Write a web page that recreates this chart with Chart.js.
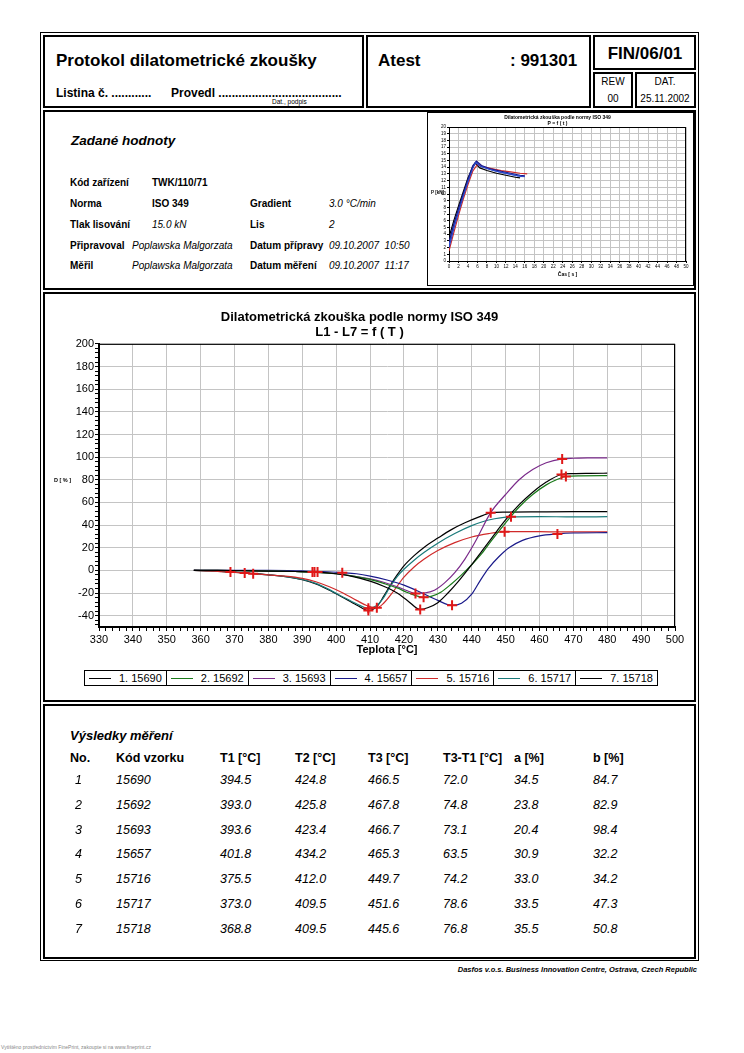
<!DOCTYPE html>
<html>
<head>
<meta charset="utf-8">
<script src="https://cdn.jsdelivr.net/npm/chart.js@4/dist/chart.umd.min.js"></script>
<style>
body { margin: 0; background: #fff; font-family: "Liberation Sans", Arial, sans-serif; color: #000; }
#page { position: relative; width: 744px; height: 1053px; overflow: hidden; }
.box { position: absolute; border: 2px solid #000; box-sizing: border-box; }
.t { position: absolute; white-space: nowrap; line-height: 1; transform: translateY(-50%); }
.c { transform: translate(-50%, -50%); }
.b { font-weight: bold; }
.i { font-style: italic; }
#legend { position: absolute; left: 84px; top: 670px; width: 574px; height: 16px; border: 1px solid #000; box-sizing: border-box; display: flex; }
#legend .cell { position: relative; flex: 1; border-right: 1px solid #000; font-size: 11px; white-space: nowrap; }
#legend .cell:last-child { border-right: none; }
#legend .ln { position: absolute; left: 4px; top: 7px; width: 22px; height: 0; border-top: 1px solid #000; }
#legend .tx { position: absolute; left: 34px; top: 1px; line-height: 13px; white-space: nowrap; }
</style>
</head>
<body>
<div id="page">
  <!-- frames -->
  <div class="box" style="left:40px;top:32px;width:659px;height:929px;border-width:1px"></div>
  <div class="box" style="left:43px;top:35px;width:321px;height:73px"></div>
  <div class="box" style="left:366px;top:35px;width:225px;height:73px"></div>
  <div class="box" style="left:593px;top:35px;width:103px;height:35px"></div>
  <div class="box" style="left:593px;top:72px;width:40px;height:36px"></div>
  <div class="box" style="left:635px;top:72px;width:61px;height:36px"></div>
  <div class="box" style="left:43px;top:110px;width:653px;height:180px"></div>
  <div class="box" style="left:427px;top:112px;width:267px;height:174px;border-width:1px"></div>
  <div class="box" style="left:43px;top:292px;width:653px;height:410px"></div>
  <div class="box" style="left:43px;top:704px;width:653px;height:255px"></div>

  <!-- header -->
  <div class="t b" style="left:56px;top:60px;font-size:17px">Protokol dilatometrické zkoušky</div>
  <div class="t b" style="left:56px;top:93px;font-size:12px">Listina č. ............</div>
  <div class="t b" style="left:171px;top:93px;font-size:12px">Provedl .....................................</div>
  <div class="t" style="left:272px;top:102px;font-size:6.5px">Dat., podpis</div>
  <div class="t b" style="left:378px;top:60px;font-size:17px">Atest</div>
  <div class="t b" style="left:510px;top:60px;font-size:17px">: 991301</div>
  <div class="t b c" style="left:645px;top:53px;font-size:17px">FIN/06/01</div>
  <div class="t c" style="left:613px;top:82px;font-size:10px">REW</div>
  <div class="t c" style="left:613px;top:99px;font-size:10px">00</div>
  <div class="t c" style="left:665px;top:82px;font-size:10px">DAT.</div>
  <div class="t c" style="left:665px;top:99px;font-size:10px">25.11.2002</div>

  <!-- zadane hodnoty -->
  <div class="t b i" style="left:71px;top:141px;font-size:13.5px">Zadané hodnoty</div>
  <div class="t b" style="left:70px;top:183px;font-size:10px">Kód zařízení</div>
  <div class="t b" style="left:152px;top:183px;font-size:10px">TWK/110/71</div>
  <div class="t b" style="left:70px;top:204px;font-size:10px">Norma</div>
  <div class="t b" style="left:152px;top:204px;font-size:10px">ISO 349</div>
  <div class="t b" style="left:250px;top:204px;font-size:10px">Gradient</div>
  <div class="t i" style="left:329px;top:204px;font-size:10px">3.0 °C/min</div>
  <div class="t b" style="left:70px;top:225px;font-size:10px">Tlak lisování</div>
  <div class="t i" style="left:152px;top:225px;font-size:10px">15.0 kN</div>
  <div class="t b" style="left:250px;top:225px;font-size:10px">Lis</div>
  <div class="t i" style="left:329px;top:225px;font-size:10px">2</div>
  <div class="t b" style="left:70px;top:246px;font-size:10px">Připravoval</div>
  <div class="t i" style="left:132px;top:246px;font-size:10px">Poplawska Malgorzata</div>
  <div class="t b" style="left:250px;top:246px;font-size:10px">Datum přípravy</div>
  <div class="t i" style="left:329px;top:246px;font-size:10px">09.10.2007&nbsp; 10:50</div>
  <div class="t b" style="left:70px;top:266px;font-size:10px">Měřil</div>
  <div class="t i" style="left:132px;top:266px;font-size:10px">Poplawska Malgorzata</div>
  <div class="t b" style="left:250px;top:266px;font-size:10px">Datum měření</div>
  <div class="t i" style="left:329px;top:266px;font-size:10px">09.10.2007&nbsp; 11:17</div>

  <!-- small chart -->
  <canvas id="smallChart" width="264" height="168" style="position:absolute;left:429px;top:114px"></canvas>
  <div class="t b" style="left:431px;top:193px;font-size:4.5px">P [kN]</div>

  <!-- main chart -->
  <canvas id="mainChart" width="650" height="368" style="position:absolute;left:44px;top:296px"></canvas>
  <div class="t b" style="left:54px;top:481px;font-size:5.5px">D [ % ]</div>
  <div id="legend"></div>

  <!-- results -->
  <div class="t b i" style="left:70px;top:735px;font-size:13px">Výsledky měření</div>
  <div id="results"></div>

  <div class="t b i" style="right:47px;top:970px;font-size:7.5px">Dasfos v.o.s. Business Innovation Centre, Ostrava, Czech Republic</div>
  <div class="t" style="left:1px;top:1047px;font-size:5px;color:#888">Vytištěno prostřednictvím FinePrint, zakoupte si na www.fineprint.cz</div>
</div>

<script>
// samples
var sampleNo = ["1", "2", "3", "4", "5", "6", "7"];
var sampleCode = ["15690", "15692", "15693", "15657", "15716", "15717", "15718"];
var sampleColor = ["#000000", "#1a7a1a", "#7a2a8a", "#1a1a8a", "#d02a2a", "#1a7a7a", "#000000"];

// results table
var t1 = [394.5, 393.0, 393.6, 401.8, 375.5, 373.0, 368.8];
var t2 = [424.8, 425.8, 423.4, 434.2, 412.0, 409.5, 409.5];
var t3 = [466.5, 467.8, 466.7, 465.3, 449.7, 451.6, 445.6];
var t3t1 = [72.0, 74.8, 73.1, 63.5, 74.2, 78.6, 76.8];
var aVal = [34.5, 23.8, 20.4, 30.9, 33.0, 33.5, 35.5];
var bVal = [84.7, 82.9, 98.4, 32.2, 34.2, 47.3, 50.8];
var t1Level = [-1.5, -1.5, -1.5, -2, -3, -2.4, -1.5];

// D [%] vs T [°C]
var curve1 = [[358,0],[365,0],[372,-0.3],[380,-0.6],[388,-1],[394.5,-1.5],[400,-3],[405,-5.5],[410,-9.5],[414,-14],[418,-20],[421,-26.5],[424.8,-34.5],[427,-33],[430,-28.5],[433,-20],[436,-10],[440,5],[443,17],[446,29],[450,44.5],[454,58],[458,69],[462,78],[466.5,84.7],[470,85.5],[475,85.7],[480,85.8]];
var curve2 = [[358,0],[365,0],[372,-0.3],[380,-0.6],[388,-1],[393,-1.5],[400,-3],[405,-5],[410,-8],[414,-11.5],[418,-15.5],[421,-19.5],[425.8,-23.8],[428,-23],[431,-19],[434,-12],[437,-4],[440,5],[443,15],[446,27],[450,42],[454,56],[458,67],[462,75.5],[465,80],[467.8,82.9],[472,83.5],[480,83.6]];
var curve3 = [[358,0],[365,0],[372,-0.3],[380,-0.6],[388,-1],[393.6,-1.5],[400,-3],[405,-5],[410,-7.5],[414,-10.5],[418,-14.5],[421,-18],[423.4,-20.4],[426,-20],[429,-17.5],[432,-11],[435,-2],[438,10],[441,25],[445.6,51],[450,67],[454,80],[458,89],[462,95],[466.7,98.4],[470,99],[475,99.3],[480,99.4]];
var curve4 = [[358,0],[370,0],[380,0],[390,-0.5],[396,-1],[401.8,-2],[406,-3],[410,-5],[415,-8.5],[420,-13],[425,-19.5],[430,-26.5],[434.2,-30.9],[437,-29],[440,-21],[442.5,-9],[445,2],[448,12],[451,20],[455,26.5],[460,30.5],[465.3,32.2],[470,33],[480,33.3]];
var curve5 = [[358,0],[365,-0.8],[370,-1.8],[375.5,-3],[380,-4],[385,-5],[390,-7],[394,-10],[398,-14.5],[402,-20],[406,-26.5],[409,-31],[412,-33],[414,-29],[417,-18],[420,-6],[423,3],[426,10],[430,17.5],[435,24.5],[440,29.5],[445,32.5],[449.7,34.2],[455,34.3],[465,34],[480,34]];
var curve6 = [[358,0],[365,-0.8],[370,-1.6],[373,-2.4],[378,-3.5],[384,-5],[390,-8],[394,-11.5],[398,-17],[402,-23.5],[406,-29.5],[409.5,-33.5],[412,-31],[414,-24],[416,-14],[418,-5.5],[420,1],[423,9],[426,16],[430,24],[435,32.5],[440,39.5],[445,44.5],[451.6,47.3],[460,47.5],[470,47.2],[480,47.4]];
var curve7 = [[358,0],[363,-0.5],[368.8,-1.5],[374,-2.5],[380,-4],[386,-6],[390,-8.3],[394,-12],[398,-17.5],[402,-24],[406,-30.5],[409.5,-35.5],[412,-32],[414,-23],[416,-13],[418,-4],[420,4],[423,13],[426,20.5],[430,28.5],[434,36],[438,42],[442,47],[445.6,50.8],[450,51.5],[460,51.7],[470,51.8],[480,51.8]];
var curves = [curve1, curve2, curve3, curve4, curve5, curve6, curve7];

// P [kN] vs time [s] for the small chart
var press1 = [[0,2],[1,4.8],[2,7.3],[3,9.6],[4,11.8],[5,13.8],[5.6,14.7],[6.5,14.2],[8,13.8],[10,13.4],[12,13.1],[14,12.8],[15.5,12.6]];
var press2 = [[0,2.8],[1,5.5],[2,7.8],[3,10],[4,12.2],[5,14.2],[5.8,14.9],[7,14.2],[9,13.7],[11,13.4],[13,13.1],[15,12.8],[16,12.7]];
var press3 = [[0,1.5],[1,4.2],[2,6.8],[3,9.2],[4,11.4],[5,13.4],[6,14.4],[7,14.1],[9,13.8],[11,13.5],[13,13.3],[15,13.1],[16.5,13]];
var press4 = [[0,3.5],[1,6],[2,8.2],[3,10.3],[4,12.4],[5,14],[5.5,14.6],[6.5,13.9],[8,13.5],[10,13.1],[12,12.8],[14,12.5],[15,12.4]];
var press5 = [[0,2.4],[1,5.2],[2,7.6],[3,9.9],[4,12],[5,14],[5.7,14.8],[6.8,14.1],[8.5,13.7],[10.5,13.3],[12.5,13],[14.5,12.7],[16,12.6]];
var pressCurves = [press1, press2, press3, press4, press5];
var pressColor = ["#2846c8", "#1a1a8a", "#d02a2a", "#000000", "#3a5ad8"];

Chart.defaults.font.family = '"Liberation Sans", Arial, sans-serif';
Chart.defaults.color = "#000";

function toPts(arr) {
    return arr.map(function (p) { return { x: p[0], y: p[1] }; });
}

var frame = {
    id: "frame",
    beforeDatasetsDraw: function (chart) {
        var a = chart.chartArea, ctx = chart.ctx;
        ctx.save();
        ctx.strokeStyle = "#000";
        ctx.lineWidth = 1;
        ctx.strokeRect(a.left + 0.5, a.top + 0.5, a.right - a.left - 1, a.bottom - a.top);
        ctx.restore();
    }
};

// main chart
var mainSets = [];
var markers = [];
for (var i = 0; i < 7; i++) {
    markers.push({ x: t1[i], y: t1Level[i] });
    markers.push({ x: t2[i], y: -aVal[i] });
    markers.push({ x: t3[i], y: bVal[i] });
}
mainSets.push({
    type: "scatter",
    data: markers,
    showLine: false,
    pointStyle: "cross",
    pointRadius: 5,
    borderColor: "#e01818",
    borderWidth: 2,
    order: -1
});
for (var i = 0; i < curves.length; i++) {
    mainSets.push({
        data: toPts(curves[i]),
        borderColor: sampleColor[i],
        borderWidth: 1.2,
        pointRadius: 0,
        cubicInterpolationMode: "monotone"
    });
}

var greyGrid = function (step) {
    return function (c) {
        return c.tick && c.tick.value % step === 0 ? "#c4c4c4" : "rgba(0,0,0,0)";
    };
};

chart = new Chart("mainChart", {
    type: "line",
    data: { datasets: mainSets },
    options: {
        responsive: false,
        animation: false,
        devicePixelRatio: 1,
        layout: { padding: { left: 0, right: 19, top: 0, bottom: 0 } },
        plugins: {
            legend: { display: false },
            tooltip: { enabled: false },
            title: {
                display: true,
                text: ["Dilatometrická zkouška podle normy ISO 349", "L1 - L7 = f ( T )"],
                font: { size: 13, weight: "bold", lineHeight: 1.15 },
                color: "#000",
                padding: { top: 14, bottom: 4 }
            }
        },
        scales: {
            x: {
                type: "linear", min: 330, max: 500,
                afterBuildTicks: function (s) {
                    var t = [];
                    for (var v = 330; v <= 500; v += 2) t.push({ value: v });
                    s.ticks = t;
                },
                afterFit: function (s) { s.height = 37; },
                ticks: {
                    autoSkip: false, maxRotation: 0, padding: 2,
                    font: { size: 11 }, color: "#000",
                    callback: function (v) { return v % 10 === 0 ? v : ""; }
                },
                grid: { color: greyGrid(10), tickColor: "#000", tickLength: 4 },
                border: { color: "#000", width: 2 },
                title: { display: true, text: "Teplota [°C]", font: { size: 11, weight: "bold" }, color: "#000", padding: { top: 0, bottom: 7 } }
            },
            y: {
                type: "linear", min: -50, max: 200,
                afterBuildTicks: function (s) {
                    var t = [];
                    for (var v = -48; v <= 200; v += 4) t.push({ value: v });
                    s.ticks = t;
                },
                afterFit: function (s) { s.width = 55; },
                ticks: {
                    autoSkip: false, padding: 1,
                    font: { size: 11 }, color: "#000",
                    callback: function (v) { return v % 20 === 0 && v >= -40 ? v : ""; }
                },
                grid: { color: greyGrid(20), tickColor: "#000", tickLength: 4 },
                border: { color: "#000", width: 2 }
            }
        }
    },
    plugins: [frame]
});

// small chart
var smallSets = [];
for (var i = 0; i < pressCurves.length; i++) {
    smallSets.push({
        data: toPts(pressCurves[i]),
        borderColor: pressColor[i],
        borderWidth: 1.2,
        pointRadius: 0
    });
}

var small = new Chart("smallChart", {
    type: "line",
    data: { datasets: smallSets },
    options: {
        responsive: false,
        animation: false,
        devicePixelRatio: 1,
        layout: { padding: { left: 0, right: 7, top: 0, bottom: 0 } },
        plugins: {
            legend: { display: false },
            tooltip: { enabled: false },
            title: {
                display: true,
                text: ["Dilatometrická zkouška podle normy ISO 349", "P = f ( t )"],
                font: { size: 5, weight: "bold", lineHeight: 1.1 },
                color: "#000",
                padding: { top: 1, bottom: 1 }
            }
        },
        scales: {
            x: {
                type: "linear", min: 0, max: 50,
                afterFit: function (s) { s.height = 21; },
                ticks: { stepSize: 2, autoSkip: false, maxRotation: 0, padding: 1, font: { size: 4.5 }, color: "#000" },
                grid: { color: "#c4c4c4", tickColor: "#000", tickLength: 2 },
                border: { color: "#000", width: 1 },
                title: { display: true, text: "Čas [ s ]", font: { size: 5, weight: "bold" }, color: "#000", padding: { top: 0, bottom: 4 } }
            },
            y: {
                type: "linear", min: 0, max: 20,
                afterFit: function (s) { s.width = 20; },
                ticks: { stepSize: 1, autoSkip: false, padding: 1, font: { size: 4.5 }, color: "#000" },
                grid: { color: "#c4c4c4", tickColor: "#000", tickLength: 2 },
                border: { color: "#000", width: 1 }
            }
        }
    },
    plugins: [frame]
});

// legend
var legendHtml = "";
for (var i = 0; i < sampleCode.length; i++) {
    legendHtml += '<div class="cell"><span class="ln" style="border-top-color:' + sampleColor[i] + '"></span>' +
        '<span class="tx">' + sampleNo[i] + '. ' + sampleCode[i] + '</span></div>';
}
document.getElementById("legend").innerHTML = legendHtml;

// results table
var colX = [70, 116, 220, 295, 368, 443, 514, 593];
var headers = ["No.", "Kód vzorku", "T1 [°C]", "T2 [°C]", "T3 [°C]", "T3-T1 [°C]", "a [%]", "b [%]"];
var html = "";
for (var c = 0; c < headers.length; c++)
    html += '<div class="t b" style="left:' + colX[c] + 'px;top:758px;font-size:12.5px">' + headers[c] + '</div>';
for (var r = 0; r < 7; r++) {
    var y = 780 + r * 24.8;
    var row = [sampleNo[r], sampleCode[r], t1[r].toFixed(1), t2[r].toFixed(1), t3[r].toFixed(1), t3t1[r].toFixed(1), aVal[r].toFixed(1), bVal[r].toFixed(1)];
    for (var c = 0; c < row.length; c++) {
        var x = c === 0 ? colX[c] + 5 : colX[c];
        html += '<div class="t i" style="left:' + x + 'px;top:' + y + 'px;font-size:12.5px">' + row[c] + '</div>';
    }
}
document.getElementById("results").innerHTML = html;
</script>
</body>
</html>
